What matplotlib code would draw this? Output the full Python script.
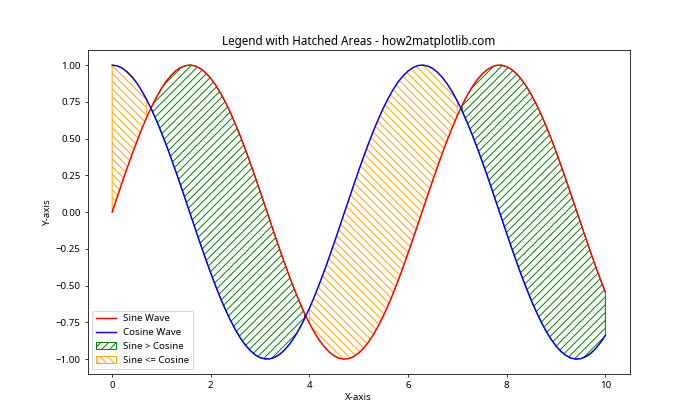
import numpy as np
import matplotlib
matplotlib.use('Agg')
import matplotlib.pyplot as plt

plt.rcParams['font.family'] = ['Noto Sans', 'DejaVu Sans']

# values at x = 0.0, 0.1, ..., 10.0
sine = [0.000, 0.100, 0.199, 0.296, 0.389, 0.479, 0.565, 0.644, 0.717, 0.783,
        0.841, 0.891, 0.932, 0.964, 0.985, 0.997, 1.000, 0.992, 0.974, 0.946,
        0.909, 0.863, 0.808, 0.746, 0.675, 0.598, 0.516, 0.427, 0.335, 0.239,
        0.141, 0.042, -0.058, -0.158, -0.256, -0.351, -0.443, -0.530, -0.612, -0.688,
        -0.757, -0.818, -0.872, -0.916, -0.952, -0.978, -0.994, -1.000, -0.996, -0.982,
        -0.959, -0.926, -0.883, -0.832, -0.773, -0.706, -0.631, -0.551, -0.465, -0.374,
        -0.279, -0.182, -0.083, 0.017, 0.117, 0.215, 0.312, 0.405, 0.494, 0.578,
        0.657, 0.729, 0.794, 0.851, 0.899, 0.938, 0.968, 0.988, 0.999, 0.999,
        0.989, 0.970, 0.941, 0.902, 0.855, 0.798, 0.734, 0.663, 0.585, 0.501,
        0.412, 0.319, 0.223, 0.124, 0.025, -0.075, -0.174, -0.272, -0.366, -0.458,
        -0.544]
cosine = [1.000, 0.995, 0.980, 0.955, 0.921, 0.878, 0.825, 0.765, 0.697, 0.622,
          0.540, 0.454, 0.362, 0.267, 0.170, 0.071, -0.029, -0.129, -0.227, -0.323,
          -0.416, -0.505, -0.589, -0.666, -0.737, -0.801, -0.857, -0.904, -0.942, -0.971,
          -0.990, -0.999, -0.998, -0.987, -0.967, -0.936, -0.897, -0.848, -0.791, -0.726,
          -0.654, -0.575, -0.490, -0.401, -0.307, -0.211, -0.112, -0.012, 0.087, 0.187,
          0.284, 0.378, 0.469, 0.554, 0.635, 0.709, 0.776, 0.835, 0.886, 0.927,
          0.960, 0.983, 0.997, 1.000, 0.993, 0.977, 0.950, 0.914, 0.869, 0.816,
          0.754, 0.685, 0.608, 0.526, 0.439, 0.347, 0.252, 0.154, 0.054, -0.046,
          -0.146, -0.244, -0.340, -0.432, -0.519, -0.602, -0.678, -0.748, -0.811, -0.865,
          -0.911, -0.948, -0.975, -0.993, -1.000, -0.997, -0.984, -0.962, -0.930, -0.888,
          -0.839]

y1 = np.array(sine)
y2 = np.array(cosine)
x = np.linspace(0, 10, len(y1))

fig, ax = plt.subplots(figsize=(10, 6), dpi=70)
ax.plot(x, y1, color='red', label='Sine Wave')
ax.plot(x, y2, color='blue', label='Cosine Wave')
ax.fill_between(x, y1, y2, where=(y1 > y2), facecolor='none',
                edgecolor='green', hatch='///', label='Sine > Cosine')
ax.fill_between(x, y1, y2, where=(y1 <= y2), facecolor='none',
                edgecolor='orange', hatch='\\\\\\', label='Sine <= Cosine')

ax.set_title('Legend with Hatched Areas - how2matplotlib.com')
ax.set_xlabel('X-axis')
ax.set_ylabel('Y-axis')
ax.legend(loc='lower left')

plt.savefig('out.png')
